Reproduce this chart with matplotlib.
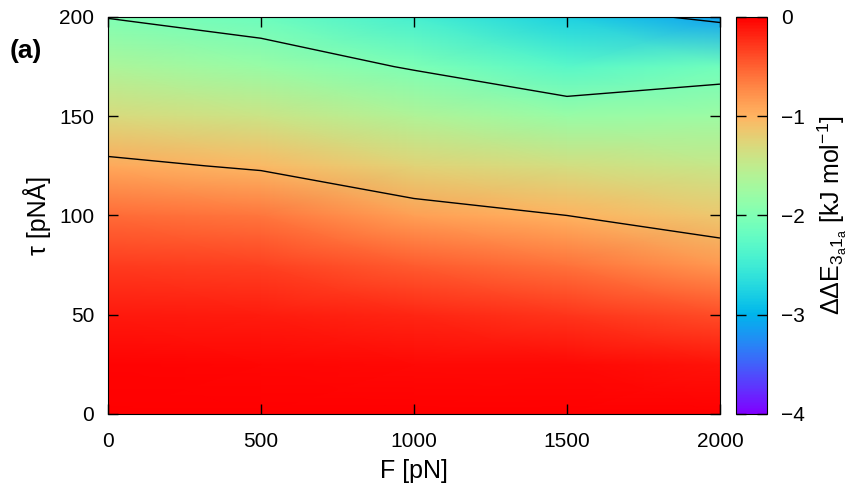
import numpy as np
import matplotlib
matplotlib.use("Agg")
import matplotlib.pyplot as plt

plt.rcParams['font.family'] = ['Liberation Sans', 'DejaVu Sans']
plt.rcParams['font.size'] = 15
plt.rcParams['mathtext.fontset'] = 'custom'
plt.rcParams['mathtext.rm'] = 'Liberation Sans'
plt.rcParams['mathtext.it'] = 'Liberation Sans:italic'

# grid: force F [pN] and torque tau [pNÅ]
force = [0, 500, 1000, 1500, 2000]
tau = [0, 25, 50, 75, 100, 125, 150, 175, 200]
# energy difference, one list per force value (rows follow tau)
dde_F0 = [0, -0.03, -0.13, -0.30, -0.56, -0.93, -1.30, -1.65, -2.01]
dde_F500 = [0, -0.04, -0.15, -0.34, -0.62, -1.04, -1.42, -1.80, -2.15]
dde_F1000 = [0, -0.05, -0.20, -0.47, -0.87, -1.25, -1.62, -2.03, -2.45]
dde_F1500 = [0, -0.06, -0.27, -0.60, -1.00, -1.35, -1.80, -2.30, -2.77]
dde_F2000 = [0, -0.10, -0.40, -0.82, -1.15, -1.45, -1.78, -2.12, -3.11]
levels = [-3, -2, -1]

Z = np.array([dde_F0, dde_F500, dde_F1000, dde_F1500, dde_F2000]).T
X, Y = np.meshgrid(force, tau)

fig = plt.figure(figsize=(8.61, 5.01), dpi=100)
ax = fig.add_axes([0.1254, 0.1737, 0.7108, 0.7924])
cax = fig.add_axes([0.8548, 0.1737, 0.036, 0.7924])

pm = ax.pcolormesh(X, Y, Z, shading='gouraud', cmap='rainbow', vmin=-4, vmax=0)
ax.contour(X, Y, Z, levels=levels, colors='black', linewidths=1.0,
           linestyles='solid')

ax.set_xlim(0, 2000)
ax.set_ylim(0, 200)
ax.set_xticks([0, 500, 1000, 1500, 2000])
ax.set_yticks([0, 50, 100, 150, 200])
ax.tick_params(direction='in', top=True, right=True, length=7, width=1, pad=10)
ax.tick_params(axis='x', pad=13)
ax.set_xlabel('F [pN]', fontsize=18, labelpad=6)
ax.set_ylabel('τ [pNÅ]', fontsize=18, labelpad=6)
ax.text(-0.16, 0.915, '(a)', transform=ax.transAxes, fontsize=19, fontweight='bold',
        ha='left', va='center')

cb = fig.colorbar(pm, cax=cax, ticks=[-4, -3, -2, -1, 0])
cb.ax.set_yticklabels(['\u22124', '\u22123', '\u22122', '\u22121', '0'])
cb.ax.tick_params(direction='in', left=True, right=True, length=7, width=1, pad=10)
cb.set_label(r'$\Delta\Delta\mathrm{E}_{3_\mathrm{a}1_\mathrm{a}}$ [kJ mol$^{-1}$]',
             fontsize=18, labelpad=8)

fig.savefig('out.png', dpi=100)
